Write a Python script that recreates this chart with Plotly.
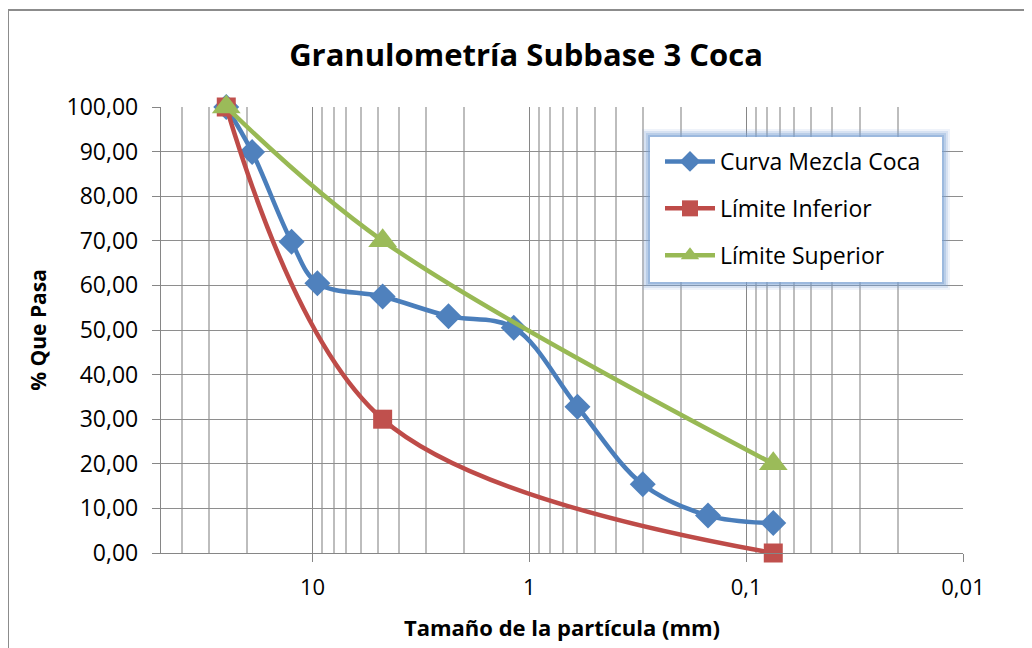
import math
import plotly.graph_objects as go

# Sieve sizes (mm) and % passing
sizes = [25, 19, 12.5, 9.5, 4.75, 2.36, 1.18, 0.6, 0.3, 0.15, 0.075]
curva_mezcla = [100, 89.9, 69.8, 60.5, 57.5, 53.1, 50.5, 32.8, 15.4, 8.4, 6.7]

lim_sizes = [25, 4.75, 0.075]
lim_inferior = [100, 30, 0]
lim_superior = [100, 70, 20]

x_ticks = [10, 1, 0.1, 0.01]
x_ticktext = ["10", "1", "0,1", "0,01"]
x_minor = [40, 30, 20, 9, 8, 7, 6, 5, 4, 3, 2,
           0.9, 0.8, 0.7, 0.6, 0.5, 0.4, 0.3, 0.2,
           0.09, 0.08, 0.07, 0.06, 0.05, 0.04, 0.03, 0.02]

FONT = "Open Sans"

# page has an 8px body margin, so the figure is drawn 8px in
OFF = 8
W, H = 1032 - OFF, 648 - OFF
# plot area in page pixels
L, R, T, B = 161, 963, 107, 553
def px(x):
    return (x - L) / (R - L)
def py(y):
    return (B - y) / (B - T)

fig = go.Figure()

fig.add_trace(go.Scatter(
    x=sizes, y=curva_mezcla, name="Curva Mezcla Coca", legendgroup="a",
    mode="lines+markers", line=dict(color="#4A7EBB", width=4.5, shape="spline"),
    marker=dict(symbol="diamond", size=20, color="#4F81BD"), cliponaxis=False
))
fig.add_trace(go.Scatter(
    x=lim_sizes, y=lim_inferior, name="Límite Inferior", legendgroup="b",
    mode="lines+markers", line=dict(color="#BE4B48", width=4.5, shape="spline"),
    marker=dict(symbol="square", size=19, color="#C0504D"), cliponaxis=False
))
fig.add_trace(go.Scatter(
    x=lim_sizes, y=lim_superior, name="Límite Superior", legendgroup="c",
    mode="lines+markers", line=dict(color="#98B954", width=4.5, shape="spline"),
    marker=dict(symbol="triangle-up", size=25, color="#9BBB59"), cliponaxis=False
))

shapes = []
# outer chart border (top and left visible)
shapes.append(dict(type="rect", xref="paper", yref="paper",
                   x0=px(8), x1=px(1045), y0=py(665), y1=py(10),
                   line=dict(color="#8c8c8c", width=2), fillcolor="rgba(0,0,0,0)",
                   layer="below"))
# legend glow
for i, op in enumerate([0.12, 0.2, 0.3, 0.45]):
    g = 8 - 2 * i
    shapes.append(dict(type="rect", xref="paper", yref="paper",
                       x0=px(650 - g), x1=px(942 + g), y0=py(282 + g), y1=py(137 - g),
                       line=dict(width=0), fillcolor=f"rgba(120,160,210,{op})",
                       layer="above"))
shapes.append(dict(type="rect", xref="paper", yref="paper",
                   x0=px(650), x1=px(942), y0=py(282), y1=py(137),
                   line=dict(width=0), fillcolor="white", layer="above"))

fig.update_layout(
    width=W, height=H,
    margin=dict(l=L - OFF, r=W - (R - OFF), t=T - OFF, b=H - (B - OFF)),
    paper_bgcolor="white", plot_bgcolor="white",
    separators=",.",
    font=dict(family=FONT, color="black"),
    title=dict(text="Granulometría Subbase 3 Coca", x=(526 - OFF) / W, xref="container",
               xanchor="center", y=1 - (55 - OFF) / H, yref="container", yanchor="middle",
               font=dict(family=FONT, size=31, weight="bold", color="black")),
    legend=dict(x=px(660), y=py(140), xanchor="left", yanchor="top",
                bgcolor="rgba(0,0,0,0)", font=dict(size=23, family=FONT),
                tracegroupgap=14, itemwidth=50),
    shapes=shapes,
)

fig.update_xaxes(
    type="log", range=[math.log10(50), -2], autorange=False, automargin=False,
    tickvals=x_ticks, ticktext=x_ticktext,
    tickfont=dict(size=22, family=FONT), ticklabelstandoff=6,
    ticks="outside", ticklen=8, tickcolor="#868686",
    showgrid=True, gridcolor="#868686", gridwidth=1.3,
    showline=True, linecolor="#868686", linewidth=1.3,
    minor=dict(tickvals=x_minor, showgrid=True, gridcolor="#bdbdbd", gridwidth=1.5,
               ticks=""),
    title=dict(text="Tamaño de la partícula (mm)", standoff=21,
               font=dict(size=22, family=FONT, weight="bold")),
    zeroline=False,
)
fig.update_yaxes(
    range=[0, 100], autorange=False, dtick=10, tickformat=".2f", automargin=False,
    tickfont=dict(size=23, family=FONT), ticklabelstandoff=9,
    ticks="outside", ticklen=8, tickcolor="#868686",
    showgrid=True, gridcolor="#8e8e8e", gridwidth=1.3,
    showline=True, linecolor="#868686", linewidth=1.3,
    title=dict(text="% Que Pasa", standoff=14,
               font=dict(size=21, family=FONT, weight="bold")),
    zeroline=False,
)

fig.write_html("out.html")
